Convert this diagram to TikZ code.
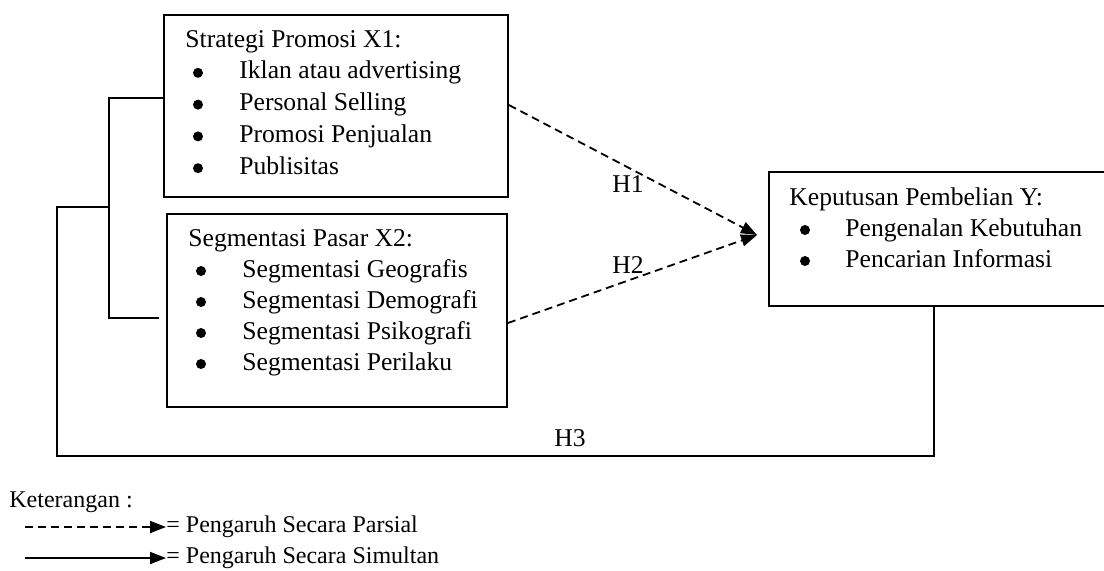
\documentclass[tikz,border=0pt]{standalone}
\usepackage{fontspec}
\setmainfont{Liberation Serif}
\usetikzlibrary{arrows.meta,fit}
\tikzset{
  kotak/.style={draw, line width=0.9pt, inner sep=0pt},
  teks/.style={anchor=base west, inner sep=0pt, font=\fontsize{12.8}{16}\selectfont},
  butir/.style={circle, fill, inner sep=0pt, minimum size=5pt},
  label/.style={inner sep=0pt, font=\fontsize{12.8}{16}\selectfont},
  ket/.style={anchor=base west, inner sep=0pt, font=\fontsize{12}{14}\selectfont},
  garis/.style={line width=0.9pt},
  putus/.style={line width=0.9pt, dash pattern=on 4pt off 2.5pt, -{Triangle[length=8pt,width=6pt]}},
  penuh/.style={line width=0.9pt, -{Triangle[length=8pt,width=6pt]}},
}
\begin{document}
\begin{tikzpicture}[x=0.5pt, y=-0.5pt]
      \useasboundingbox (0,0) rectangle (1104,570);
      % Kotak variabel
      \node[kotak, fit={(164,15) (508,197)}] (x1) {};
      \node[kotak, fit={(167,214) (507,407)}] (x2) {};
      \node[kotak, fit={(769,172) (1110,306)}] (y) {};

      % Isi kotak X1
      \node[teks] (x1judul) at (185,47) {Strategi Promosi X1:};
      \foreach \isi [count=\i] in {Iklan atau advertising, Personal Selling, Promosi Penjualan, Publisitas} {
        \node[butir] (x1b\i) at (198,41+31.8*\i) {};
        \node[teks] (x1i\i) at (239,47+31.8*\i) {\isi};
      }

      % Isi kotak X2
      \node[teks] (x2judul) at (188,246) {Segmentasi Pasar X2:};
      \foreach \isi [count=\i] in {Segmentasi Geografis, Segmentasi Demografi, Segmentasi Psikografi, Segmentasi Perilaku} {
        \node[butir] (x2b\i) at (201,240+31*\i) {};
        \node[teks] (x2i\i) at (242,246+31*\i) {\isi};
      }

      % Isi kotak Y
      \node[teks] (yjudul) at (789,205) {Keputusan Pembelian Y:};
      \foreach \isi [count=\i] in {Pengenalan Kebutuhan, Pencarian Informasi} {
        \node[butir] (yb\i) at (805,199+31*\i) {};
        \node[teks] (yi\i) at (845,205+31*\i) {\isi};
      }

      % Hipotesis parsial
      \coordinate (panah) at (757,235);
      \draw[putus] (x1.east |- 0,105) -- (panah);
      \draw[putus] (x2.east |- 0,323) -- (panah);
      \node[label] (h1) at (628,184) {H1};
      \node[label] (h2) at (628,265) {H2};

      % Hipotesis simultan
      \coordinate (cabang) at (109,207);
      \coordinate (ujung2) at (159,318);
      \coordinate (kiri) at (57,207);
      \coordinate (bawah) at (934,456);
      \draw[garis] (x1.west |- 0,98) -| (cabang) |- (ujung2);
      \draw[garis] (cabang) -- (kiri) |- (bawah) -- (y.south -| bawah);
      \node[label] (h3) at (570,438) {H3};

      % Keterangan
      \node[ket] (keterangan) at (9,507) {Keterangan :};
      \node[ket] (parsial) at (166,532) {= Pengaruh Secara Parsial};
      \node[ket] (simultan) at (166,563) {= Pengaruh Secara Simultan};
      \coordinate (lp) at (25,527);
      \coordinate (ls) at (25,558);
      \draw[putus] (lp) -- (lp -| parsial.west);
      \draw[penuh] (ls) -- (ls -| simultan.west);
    \end{tikzpicture}
\end{document}
